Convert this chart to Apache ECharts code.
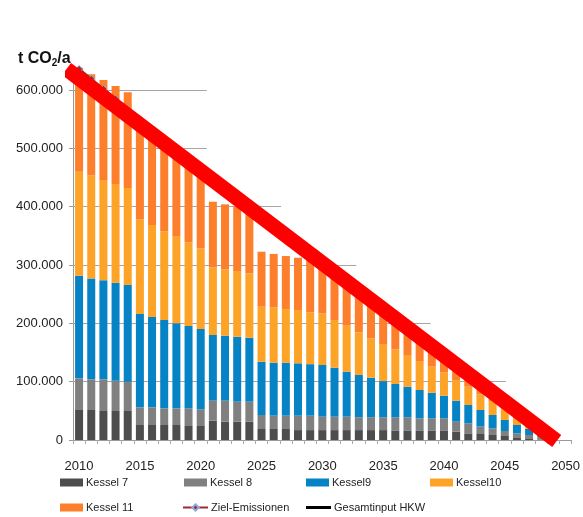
<!DOCTYPE html>
<html><head><meta charset="utf-8">
<script src="https://cdn.jsdelivr.net/npm/echarts@6/dist/echarts.min.js"></script>
<style>html,body{margin:0;padding:0;background:#fff}#c{width:583px;height:517px}</style>
</head><body><div id="c"></div>
<script>
const years = ['2010','2011','2012','2013','2014','2015','2016','2017','2018','2019','2020',
  '2021','2022','2023','2024','2025','2026','2027','2028','2029','2030',
  '2031','2032','2033','2034','2035','2036','2037','2038','2039','2040',
  '2041','2042','2043','2044','2045','2046','2047','2048','2049','2050'];
const kessel7 = [51400,51400,49700,49700,49700,25700,25700,25700,25700,24000,24000,
  33000,31400,31400,31400,18900,18900,18900,17000,17000,17000,
  17000,17000,17000,17000,17000,16500,16500,16500,16500,16500,
  14300,11400,10300,8600,6900,4600,1700,1000,300,0];
const kessel8 = [54300,52600,54300,52000,50300,30300,30300,28600,28600,30300,28600,
  34400,36000,34300,34300,24000,22800,22800,24700,24700,23000,
  23000,23000,21900,21900,21900,22400,22400,20600,20600,20600,
  17100,17200,12600,11400,8500,6800,6900,4000,700,0];
const kessel9 = [175900,173000,170000,167900,165700,160000,155000,151400,145700,141100,137700,
  112600,111400,111300,109700,91100,90800,90800,89800,88300,88600,
  84000,77000,72500,67900,62100,57100,52500,48600,43900,38900,
  36000,31400,28500,22900,18900,14300,10300,9000,2000,0];
const kessel10 = [178400,177000,171700,169200,166300,162000,157500,152300,148500,143500,138300,
  116000,113800,112700,110300,94500,94900,92000,91300,88900,88400,
  81700,79000,73200,67500,63600,59500,54300,49700,44700,40000,
  35400,31400,26900,24000,20000,16300,11100,4000,1000,0];
const kessel11 = [178000,173000,171300,168200,164000,167000,161500,157000,149500,141100,133400,
  112500,111400,110300,104300,94300,91600,90900,89700,89600,86000,
  84300,80000,77400,70700,65400,58500,52300,46600,40300,34000,
  32200,27600,24700,20100,16700,13000,8000,4000,1000,0];
const zielEmissionen = [636000,619000,602000,585000,567000,550000,533000,516000,499000,482000,465000,
  449000,433000,417000,401000,385000,369000,353000,337000,321000,305000,
  289000,273000,257000,241000,225000,209000,193000,177000,161000,145000,
  129000,113000,97000,81000,65000,49000,33000,17000,3000,'-'];
const gesamtinputHKW = [];
const yTicks = [0,100000,200000,300000,400000,500000,600000];
const gridLevels = [100000,200000,300000,400000,500000,600000];
const gridEnds = [2045.1,2038.9,2032.8,2026.6,2020.5,2020.5];
const bandLine = [[2008.97,636000],[2049.27,-1700]];

const FONT = 'Liberation Sans, Arial, sans-serif';
const fmt = v => String(v).replace(/\B(?=(\d{3})+(?!\d))/g,'.');
const chart = echarts.init(document.getElementById('c'), null, {renderer:'canvas'});

const barNames = ['Kessel 7','Kessel 8','Kessel9','Kessel10','Kessel 11'];
const barData = [kessel7,kessel8,kessel9,kessel10,kessel11];
const barColors = ['#4d4d4d','#808080','#0583c5','#fda428','#fd7f2c'];

function leg(name, left, top, icon, w, h){
  const o = {data:[name], left:left, top:top, itemWidth:w||23, itemHeight:h||8, padding:0,
    itemGap:0, textStyle:{fontSize:11, color:'#222', fontFamily:FONT, padding:[0,0,0,-2]}};
  if (icon) o.icon = icon;
  return o;
}

const option = {
  animation:false,
  backgroundColor:'#fff',
  textStyle:{fontFamily:FONT},
  title:{
    text:'{a|t CO}{s|2}{a|/a}', left:13, top:44,
    textStyle:{rich:{
      a:{fontSize:16, fontWeight:'bold', color:'#111', fontFamily:FONT, lineHeight:20},
      s:{fontSize:10, fontWeight:'bold', color:'#111', fontFamily:FONT, lineHeight:20, padding:[9,0,0,0]}
    }}
  },
  legend:[
    leg('Kessel 7',60,477,'rect'),
    leg('Kessel 8',184,477,'rect'),
    leg('Kessel9',306,477,'rect'),
    leg('Kessel10',430,477,'rect'),
    leg('Kessel 11',60,502,'rect'),
    leg('Ziel-Emissionen',182,502,null,25),
    leg('Gesamtinput HKW',306,502,'rect',25,3)
  ],
  grid:{left:73, right:7, top:66.7, bottom:77, containLabel:false},
  xAxis:[
    {type:'category', data:years, boundaryGap:true,
     axisLine:{lineStyle:{color:'#999'}},
     axisTick:{show:true, interval:0, length:4, lineStyle:{color:'#aaa'}},
     axisLabel:{interval:4, margin:20, fontSize:13, color:'#222', fontFamily:FONT},
     splitLine:{show:false}},
    {type:'value', min:2009.5, max:2050.5, show:false}
  ],
  yAxis:{type:'value', min:0, max:640000, interval:100000,
    axisLine:{show:true, lineStyle:{color:'#999'}},
    axisTick:{show:true, length:4, lineStyle:{color:'#999'}, customValues:yTicks},
    axisLabel:{fontSize:13, color:'#222', margin:10, fontFamily:FONT, customValues:yTicks,
      formatter:v => (v % 100000 === 0 ? fmt(v) : '')},
    splitLine:{show:false}},
  series:[
    {name:'grid', type:'line', xAxisIndex:1, data:[], silent:true, z:1,
     markLine:{silent:true, z:1, symbol:['none','none'], label:{show:false},
       lineStyle:{color:'#a6a6a6', width:1, type:'solid'},
       emphasis:{disabled:true},
       data: gridLevels.map((v,i)=>[{coord:[2009.5,v]},{coord:[gridEnds[i],v]}])}},
    ...barNames.map((n,i)=>({name:n, type:'bar', stack:'total', barWidth:8, z:2,
      data:barData[i], itemStyle:{color:barColors[i]}})),
    {name:'Ziel-Emissionen', type:'line', data:zielEmissionen, z:3,
     symbol:'diamond', symbolSize:7, color:'#a02830',
     lineStyle:{color:'#a02830', width:2.5},
     itemStyle:{color:'#a02830', borderColor:'#8faadc', borderWidth:1}},
    {name:'Gesamtinput HKW', type:'line', data:gesamtinputHKW, color:'#000',
     itemStyle:{color:'#000'}, lineStyle:{color:'#000', width:2.5}, symbol:'none'},
    {name:'band', type:'line', xAxisIndex:1, data:bandLine, symbol:'none', clip:false,
     silent:true, z:10, lineStyle:{color:'#ff0000', width:15, cap:'butt'}}
  ]
};
chart.setOption(option);
</script>
</body></html>
